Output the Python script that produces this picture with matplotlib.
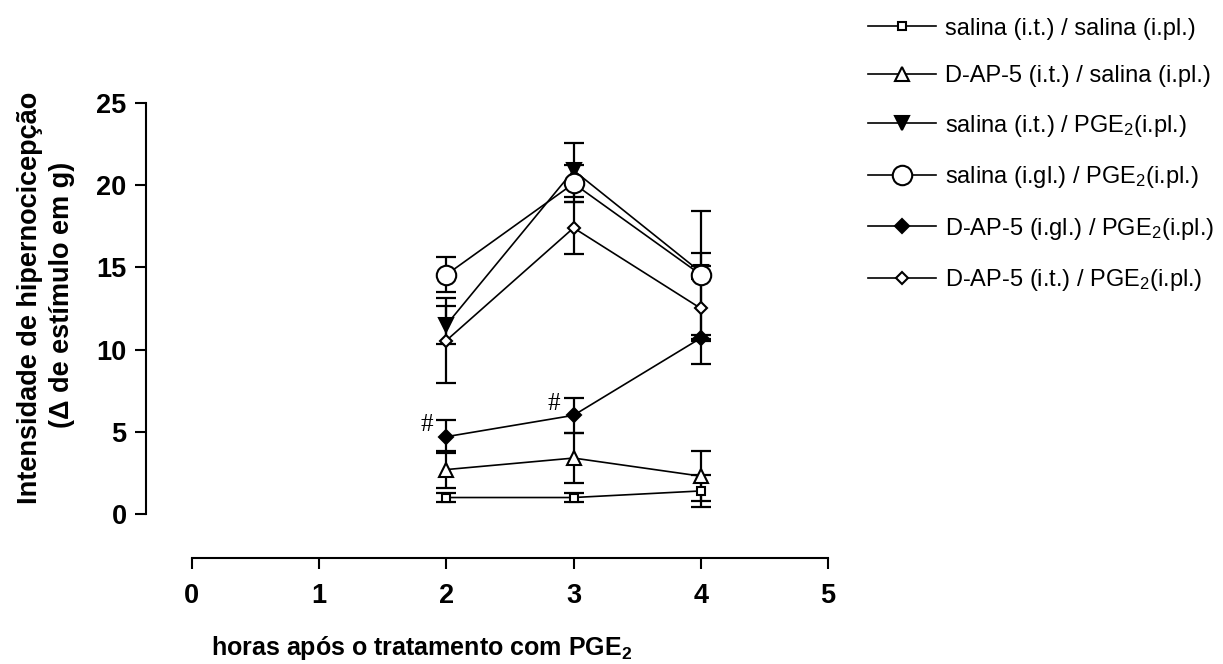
import numpy as np
import matplotlib.pyplot as plt

plt.rcParams['font.family'] = ['Liberation Sans', 'DejaVu Sans']
plt.rcParams['mathtext.default'] = 'regular'

horas = [2, 3, 4]

labels = [
    'salina (i.t.) / salina (i.pl.)',
    'D-AP-5 (i.t.) / salina (i.pl.)',
    'salina (i.t.) / PGE$_2$(i.pl.)',
    'salina (i.gl.) / PGE$_2$(i.pl.)',
    'D-AP-5 (i.gl.) / PGE$_2$(i.pl.)',
    'D-AP-5 (i.t.) / PGE$_2$(i.pl.)',
]

sal_sal = [1.0, 1.0, 1.4]
sal_sal_err = [0.3, 0.3, 0.95]
dap_sal = [2.7, 3.4, 2.3]
dap_sal_err = [1.1, 1.5, 1.5]
sal_pge_it = [11.5, 20.9, 14.7]
sal_pge_it_err = [1.15, 1.65, 0.4]
sal_pge_igl = [14.55, 20.1, 14.55]
sal_pge_igl_err = [1.05, 1.1, 3.9]
dap_pge_igl = [4.7, 6.0, 10.7]
dap_pge_igl_err = [1.0, 1.05, 0.2]
dap_pge_it = [10.55, 17.4, 12.5]
dap_pge_it_err = [2.6, 1.6, 3.4]

series = [sal_sal, dap_sal, sal_pge_it, sal_pge_igl, dap_pge_igl, dap_pge_it]
errors = [sal_sal_err, dap_sal_err, sal_pge_it_err, sal_pge_igl_err,
          dap_pge_igl_err, dap_pge_it_err]
# marker, size, face
estilos = [('s', 6, 'white'), ('^', 10, 'white'), ('v', 10, 'black'),
           ('o', 14, 'white'), ('D', 7, 'black'), ('D', 6.5, 'white')]

fig = plt.figure(figsize=(12.23, 6.64), dpi=100)
ax = fig.add_axes([0.1194, 0.1596, 0.5577, 0.6854])

handles = []
for y, e, lab, (m, ms, fc) in zip(series, errors, labels, estilos):
    ax.errorbar(horas, y, yerr=e, fmt='none', ecolor='black', elinewidth=1.6,
                capsize=7, capthick=1.6, clip_on=False, zorder=2)
    h, = ax.plot(horas, y, color='black', lw=1.2, marker=m, markersize=ms,
                 markerfacecolor=fc, markeredgecolor='black', markeredgewidth=1.5,
                 clip_on=False, zorder=3, label=lab)
    handles.append(h)

# significance marks over D-AP-5 (i.gl.) / PGE2
for xi, yi in zip(horas[:2], dap_pge_igl[:2]):
    ax.annotate('#', (xi, yi), xytext=(-14, 8.5), textcoords='offset points',
                ha='center', va='center', fontsize=18,
                family=['Liberation Serif', 'DejaVu Serif'])

ax.set_xlim(-0.36, 5.0)
ax.set_ylim(-2.68, 25)
ax.set_xticks([0, 1, 2, 3, 4, 5])
ax.set_yticks([0, 5, 10, 15, 20, 25])
ax.spines['top'].set_visible(False)
ax.spines['right'].set_visible(False)
ax.spines['left'].set_bounds(0, 25)
ax.spines['bottom'].set_bounds(0, 5)
for s in ('left', 'bottom'):
    ax.spines[s].set_linewidth(1.5)
ax.tick_params(width=1.5, length=8, labelsize=19.5)
ax.tick_params(axis='x', pad=10)
ax.tick_params(axis='y', pad=6)
for t in ax.get_xticklabels() + ax.get_yticklabels():
    t.set_fontweight('bold')

fig.text(30 / 1223, 1 - 298 / 664, 'Intensidade de hipernocicepção',
         rotation=90, ha='center', va='center', fontsize=19.5, fontweight='bold')
fig.text(62 / 1223, 1 - 295 / 664, '(Δ de estímulo em g)',
         rotation=90, ha='center', va='center', fontsize=19.5, fontweight='bold')
fig.text(422 / 1223, 1 - 648 / 664, 'horas após o tratamento com PGE$_2$',
         ha='center', va='center', fontsize=18, fontweight='bold')

fig.legend(handles=handles, loc='upper left', bbox_to_anchor=(0.702, 0.9875),
           frameon=False, fontsize=17, handlelength=2.9, labelspacing=1.08,
           handletextpad=0.35, borderaxespad=0, markerscale=1.0)

fig.savefig('out.png', dpi=100)
